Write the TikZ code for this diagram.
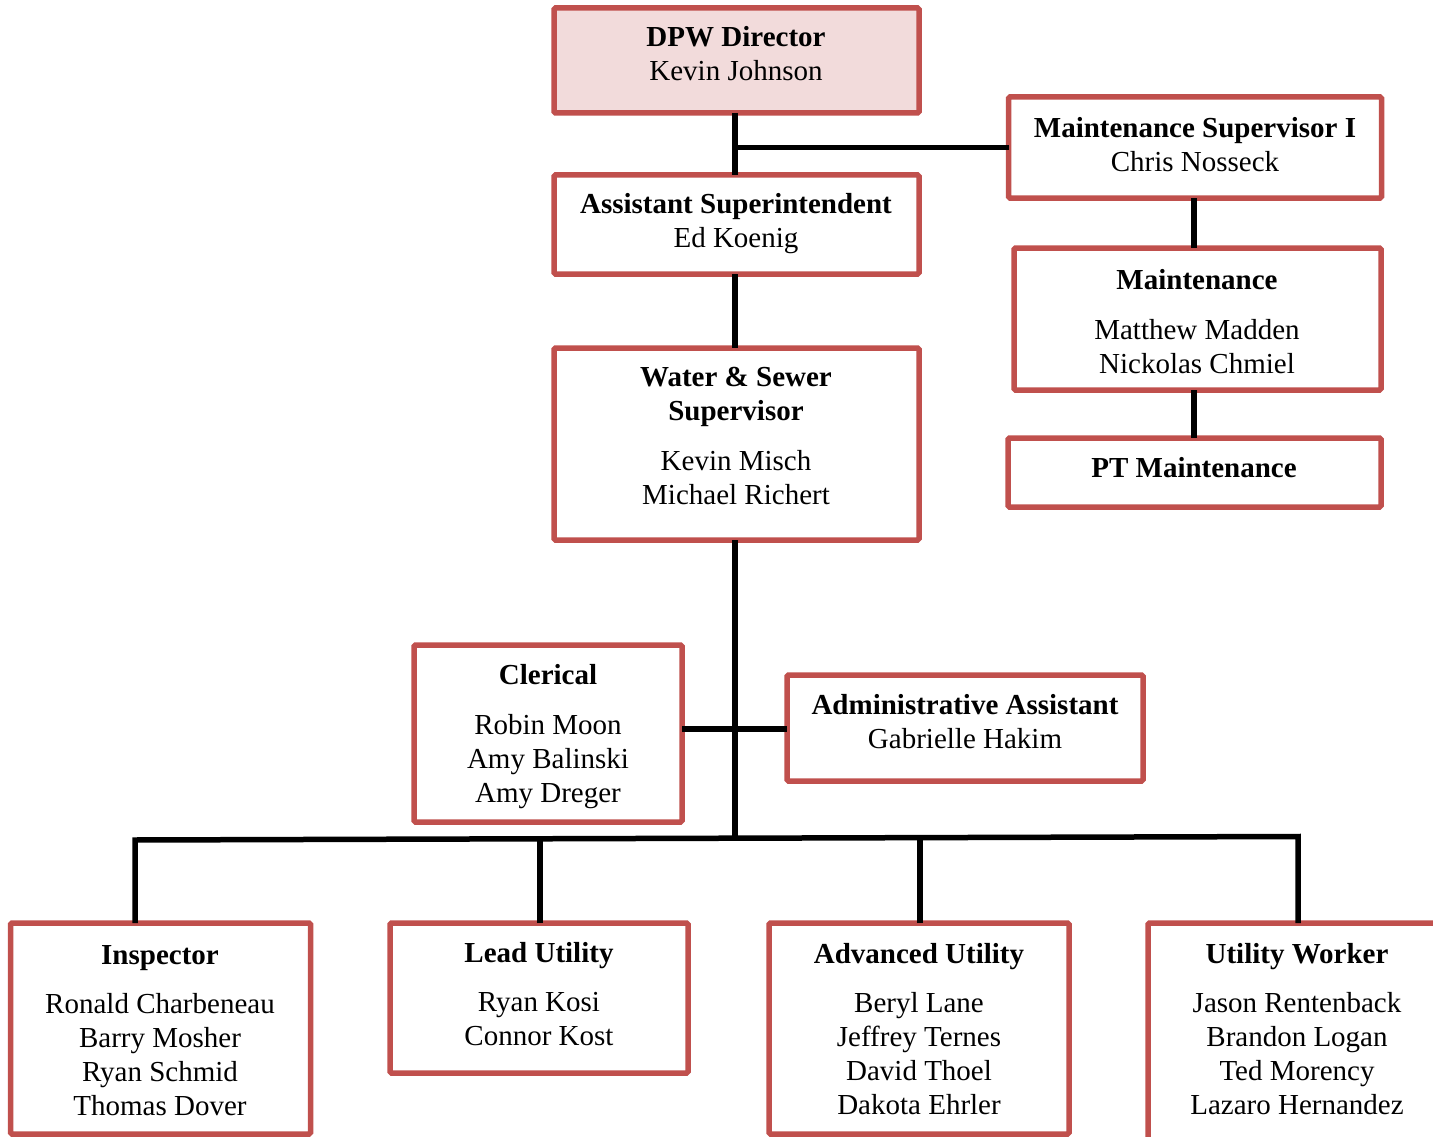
\documentclass[tikz,border=0pt]{standalone}
\usepackage{fontspec}
\setmainfont{Liberation Serif}
\definecolor{boxred}{HTML}{C0504D}
\definecolor{boxfill}{HTML}{F2DBDB}
\begin{document}
\begin{tikzpicture}[x=1pt,y=-1pt,
  box/.style={draw=boxred, line width=5.5pt, rounded corners=1.5pt, inner sep=0pt, outer sep=0pt, fill=white},
  txt/.style={anchor=north, inner sep=0pt, align=center, font=\fontsize{29}{34}\selectfont},
  conn/.style={line width=5.5pt, draw=black}]
\useasboundingbox (0,0) rectangle (1433,1137);

% boxes
\node[box, fill=boxfill, minimum width=365pt, minimum height=105pt] (dpw) at (736.5,60.5) {};
\node[box, minimum width=373pt, minimum height=101pt] (ms1) at (1195,147.5) {};
\node[box, minimum width=365pt, minimum height=99pt] (asst) at (736.5,224.5) {};
\node[box, minimum width=367pt, minimum height=142pt] (maint) at (1197.5,319) {};
\node[box, minimum width=373pt, minimum height=69pt] (pt) at (1194.5,472.5) {};
\node[box, minimum width=365pt, minimum height=192pt] (ws) at (736.5,444) {};
\node[box, minimum width=268pt, minimum height=177pt] (cler) at (548,733.5) {};
\node[box, minimum width=356pt, minimum height=106pt] (admin) at (965,728) {};
\node[box, minimum width=300pt, minimum height=211pt] (insp) at (160.5,1028.5) {};
\node[box, minimum width=298pt, minimum height=150pt] (lead) at (539,998) {};
\node[box, minimum width=300pt, minimum height=211pt] (adv) at (919,1028.5) {};
\node[box, minimum width=296pt, minimum height=221pt] (uw) at (1296,1033.5) {};

% texts
\node[txt] (dpwT) at (736,22.2) {\strut\textbf{DPW Director}\\Kevin Johnson};
\node[txt] (ms1T) at (1195,113.2) {\strut\textbf{Maintenance Supervisor I}\\Chris Nosseck};
\node[txt] (asstT) at (736,189.2) {\strut\textbf{Assistant Superintendent}\\Ed Koenig};
\node[txt] (maintT) at (1197,265.2) {\strut\textbf{Maintenance}\\[16pt]Matthew Madden\\Nickolas Chmiel};
\node[txt] (ptT) at (1194,453.2) {\strut\textbf{PT Maintenance}};
\node[txt] (wsT) at (736,362.2) {\strut\textbf{Water \& Sewer}\\\textbf{Supervisor}\\[16pt]Kevin Misch\\Michael Richert};
\node[txt] (clerT) at (548,660.2) {\strut\textbf{Clerical}\\[16pt]Robin Moon\\Amy Balinski\\Amy Dreger};
\node[txt] (adminT) at (965,690.2) {\strut\textbf{Administrative Assistant}\\Gabrielle Hakim};
\node[txt] (inspT) at (160,940.2) {\strut\textbf{Inspector}\\[15pt]Ronald Charbeneau\\Barry Mosher\\Ryan Schmid\\Thomas Dover};
\node[txt] (leadT) at (539,938.2) {\strut\textbf{Lead Utility}\\[15pt]Ryan Kosi\\Connor Kost};
\node[txt] (advT) at (919,939.2) {\strut\textbf{Advanced Utility}\\[15pt]Beryl Lane\\Jeffrey Ternes\\David Thoel\\Dakota Ehrler};
\node[txt] (uwT) at (1297,939.2) {\strut\textbf{Utility Worker}\\[15pt]Jason Rentenback\\Brandon Logan\\Ted Morency\\Lazaro Hernandez};

% connector coordinates
\coordinate (vx) at (735,0);
\coordinate (mx) at (1194,0);
\coordinate (hy) at (0,729);
\coordinate (busL) at (135,840);
\coordinate (busM) at (735,838.3);
\coordinate (busR) at (1298,836.5);
\coordinate (d2) at (540,838.9);
\coordinate (d3) at (920,837.7);

% connectors
\draw[conn] (dpw.south -| vx) -- (asst.north -| vx);
\draw[conn] (ms1.west) -- (ms1.west -| vx);
\draw[conn] (asst.south -| vx) -- (ws.north -| vx);
\draw[conn] (ms1.south -| mx) -- (maint.north -| mx);
\draw[conn] (maint.south -| mx) -- (pt.north -| mx);
\draw[conn] (ws.south -| vx) -- ([yshift=2.5pt]busM);
\draw[conn] (cler.east |- hy) -- (admin.west |- hy);
\draw[conn] (insp.north -| busL) -- (busL) -- (busR) -- (uw.north -| busR);
\draw[conn] (lead.north -| d2) -- (d2);
\draw[conn] (adv.north -| d3) -- (d3);
\end{tikzpicture}
\end{document}
